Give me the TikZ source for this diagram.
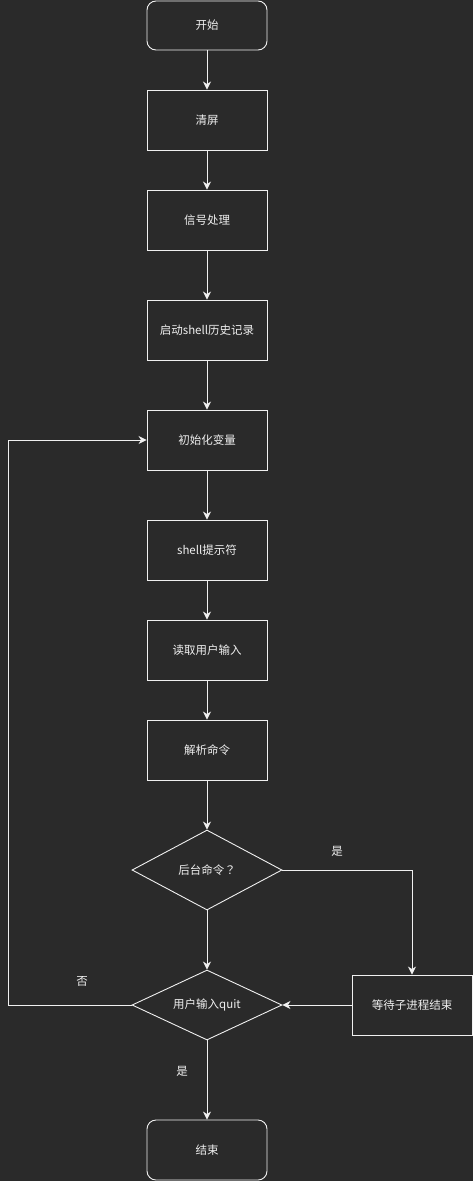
\documentclass[tikz,border=0pt]{standalone}
\usepackage{fontspec}
\setmainfont{Noto Sans CJK SC}
\newfontfamily\tcfont{Noto Sans CJK TC}
\usetikzlibrary{shapes.geometric,arrows.meta}
\definecolor{bg}{HTML}{2A2A2A}
\definecolor{fg}{HTML}{F0F0F0}
\begin{document}
\begin{tikzpicture}[x=1pt,y=-1pt,
  every node/.style={text=fg,font=\fontsize{11.5}{13.5}\selectfont},
  box/.style={draw=fg,line width=0.9pt,minimum width=120pt,minimum height=60pt,inner sep=0pt},
  term/.style={box,rounded corners=9pt},
  decision/.style={draw=fg,line width=0.9pt,diamond,shape aspect=2,inner sep=0pt,minimum width=150pt},
  lbl/.style={inner sep=0pt},
  flow/.style={draw=fg,line width=0.9pt,-{Stealth[length=8pt,width=8pt,inset=2.5pt]}}]
  \fill[bg] (0,0) rectangle (473,1181);
  \useasboundingbox (0,0) rectangle (473,1181);

  \node[term,minimum height=49pt] (start) at (207,25.5) {开始};
  \node[box] (clear) at (207,120) {清屏};
  \node[box] (sig) at (207,220) {信号处理};
  \node[box] (hist) at (207,330) {启动shell历史记录};
  \node[box] (init) at (207,440) {初始化变量};
  \node[box] (prompt) at (207,550) {shell提示符};
  \node[box] (read) at (207,650) {读取用户输入};
  \node[box] (parse) at (207,750) {解析命令};
  \node[decision,minimum height=80pt] (bg) at (207,870) {后台命令{\tcfont ？}};
  \node[decision,minimum height=70pt] (quit) at (207,1005) {用户输入quit};
  \node[box] (wait) at (412,1005) {等待子进程结束};
  \node[term] (end) at (207,1150) {结束};

  \coordinate (loopL) at (8,1005);
  \coordinate (loopT) at (8,440);

  \draw[flow] (start) -- (clear);
  \draw[flow] (clear) -- (sig);
  \draw[flow] (sig) -- (hist);
  \draw[flow] (hist) -- (init);
  \draw[flow] (init) -- (prompt);
  \draw[flow] (prompt) -- (read);
  \draw[flow] (read) -- (parse);
  \draw[flow] (parse) -- (bg);
  \draw[flow] (bg) -- (quit);
  \draw[flow] (bg.east) -| (wait.north);
  \draw[flow] (wait) -- (quit.east);
  \draw[flow] (quit.west) -- (loopL) -- (loopT) -- (init.west);
  \draw[flow] (quit) -- (end);

  \node[lbl] (yes1) at (337,851) {是};
  \node[lbl] (no1) at (82,981) {否};
  \node[lbl] (yes2) at (182,1071) {是};
\end{tikzpicture}
\end{document}
